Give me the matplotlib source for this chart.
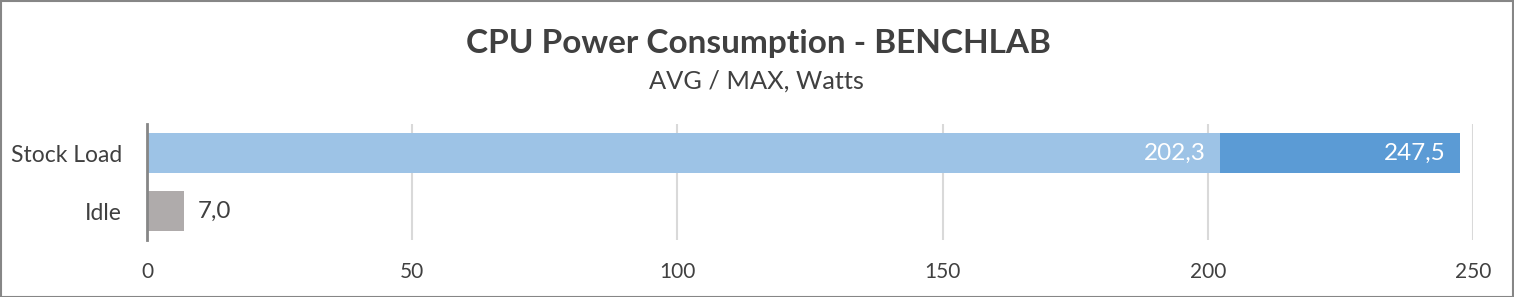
import matplotlib
matplotlib.use('Agg')
from matplotlib import pyplot as plt
from matplotlib.patches import Rectangle

# DATA
categories = ['Idle', 'Stock Load']
avg_values = [7.0, 202.3]
max_values = [None, 247.5]
x_ticks = [0, 50, 100, 150, 200, 250]

# STYLE
text_col = '#404040'
light_blue = '#9DC3E6'
dark_blue = '#5B9BD5'
gray = '#AFABAB'

plt.rcParams['font.family'] = ['Lato', 'DejaVu Sans']

fig = plt.figure(figsize=(15.14, 2.97), dpi=100)
ax = fig.add_axes([147 / 1514, 57 / 297, 1326 / 1514, 116 / 297])

ypos = list(range(len(categories)))
h = 0.68
off = 2.6

# max bar behind, avg bar in front
for y, mx in zip(ypos, max_values):
    if mx is not None:
        ax.barh(y, mx, height=h, color=dark_blue, zorder=2)
        ax.text(mx - off, y, ('%.1f' % mx).replace('.', ','), color='white',
                ha='right', va='center', fontsize=17.5, zorder=4)

for y, av, mx in zip(ypos, avg_values, max_values):
    col = light_blue if mx is not None else gray
    ax.barh(y, av, height=h, color=col, zorder=3)
    lab = ('%.1f' % av).replace('.', ',')
    if mx is not None:
        ax.text(av - off, y, lab, color='white', ha='right', va='center',
                fontsize=17.5, zorder=4)
    else:
        ax.text(av + off, y, lab, color=text_col, ha='left', va='center',
                fontsize=17.5, zorder=4)

ax.set_xlim(0, 250)
ax.set_ylim(-0.5, 1.5)
ax.set_xticks(x_ticks)
ax.set_yticks(ypos)
ax.set_yticklabels(categories)
ax.tick_params(axis='both', length=0, labelsize=15, colors=text_col)
ax.tick_params(axis='x', pad=16)
ax.tick_params(axis='y', pad=18)
for lbl in ax.get_yticklabels():
    lbl.set_fontsize(16.5)
ax.grid(axis='x', color='#D9D9D9', linewidth=1.5, zorder=0)
ax.set_axisbelow(True)
for s in ['top', 'right', 'bottom']:
    ax.spines[s].set_visible(False)
ax.spines['left'].set_color('#868686')
ax.spines['left'].set_linewidth(2)
ax.spines['left'].set_zorder(5)

fig.text(758 / 1514, 1 - 43 / 297, 'CPU Power Consumption - BENCHLAB',
         ha='center', va='center', fontsize=24, fontweight='bold', color=text_col)
fig.text(756 / 1514, 1 - 81 / 297, 'AVG / MAX, Watts',
         ha='center', va='center', fontsize=18.3, color=text_col)

fig.patches.append(Rectangle((0.5 / 1514, 0.5 / 297), 1 - 1.5 / 1514, 1 - 1.5 / 297,
                             transform=fig.transFigure, fill=False,
                             edgecolor='#868686', linewidth=1.5))

fig.savefig('out.png', dpi=100)
